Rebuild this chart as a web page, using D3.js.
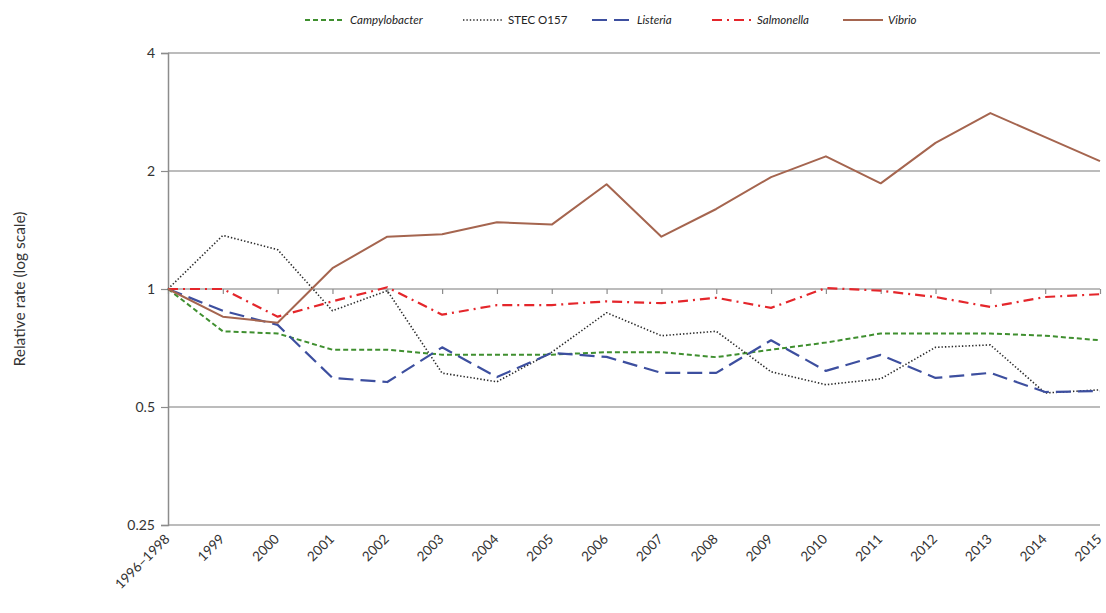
<!DOCTYPE html>
<html>
<head>
<meta charset="utf-8">
<script src="https://cdn.jsdelivr.net/npm/d3@7"></script>
<style>
  html, body { margin: 0; padding: 0; background: #fff; }
  svg { display: block; font-family: Lato, "Open Sans", sans-serif; }
</style>
</head>
<body>
<svg id="chart" width="1106" height="613"></svg>
<script>
// Periods on the category axis
const periods = ["1996\u20131998", "1999", "2000", "2001", "2002", "2003", "2004", "2005", "2006",
  "2007", "2008", "2009", "2010", "2011", "2012", "2013", "2014", "2015"];

// Relative incidence rate versus 1996–1998 baseline
const campylobacter = [1, 0.78, 0.77, 0.70, 0.70, 0.68, 0.68, 0.68, 0.69, 0.69, 0.67, 0.70, 0.73, 0.77, 0.77, 0.77, 0.76, 0.74];
const stecO157 = [1, 1.37, 1.26, 0.88, 0.99, 0.61, 0.58, 0.69, 0.87, 0.76, 0.78, 0.615, 0.57, 0.59, 0.71, 0.72, 0.543, 0.553];
const listeria = [1, 0.88, 0.81, 0.593, 0.579, 0.71, 0.596, 0.687, 0.671, 0.611, 0.611, 0.74, 0.618, 0.679, 0.593, 0.611, 0.546, 0.549];
const salmonella = [1, 1.0, 0.85, 0.93, 1.01, 0.86, 0.91, 0.91, 0.93, 0.92, 0.95, 0.895, 1.006, 0.99, 0.954, 0.90, 0.954, 0.97];
const vibrio = [1, 0.85, 0.82, 1.13, 1.36, 1.38, 1.48, 1.46, 1.85, 1.36, 1.6, 1.93, 2.18, 1.86, 2.36, 2.81, 2.44, 2.12];

// Y-axis tick values (log scale)
const yTicks = [0.25, 0.5, 1, 2, 4];

const series = [
  { name: "Campylobacter", values: campylobacter, color: "#3f8f2f", dash: "5,3", width: 2 },
  { name: "STEC O157", values: stecO157, color: "#2b2b2b", dash: "1.4,2", width: 1.6 },
  { name: "Listeria", values: listeria, color: "#3d4f9f", dash: "15,7", width: 2.2 },
  { name: "Salmonella", values: salmonella, color: "#e4262b", dash: "10,5,2,5", width: 2.2 },
  { name: "Vibrio", values: vibrio, color: "#a5654f", dash: null, width: 2 }
];

const svg = d3.select("#chart");
const plotLeft = 168, plotRight = 1100, plotTop = 53, plotBottom = 525;

const x = d3.scalePoint().domain(periods).range([plotLeft, plotRight]);
const y = d3.scaleLog().base(2).domain([0.25, 4]).range([plotBottom, plotTop]);

// Horizontal gridlines
svg.append("g").selectAll("line")
  .data(yTicks)
  .join("line")
  .attr("x1", plotLeft).attr("x2", plotRight)
  .attr("y1", d => y(d)).attr("y2", d => y(d))
  .attr("stroke", "#a6a6a6").attr("stroke-width", 1.5);

// Y axis
const yAxis = svg.append("g")
  .attr("transform", `translate(${plotLeft},0)`)
  .call(d3.axisLeft(y).tickValues(yTicks).tickFormat(d => String(d)).tickSize(7).tickPadding(6));
yAxis.select(".domain").attr("stroke", "#8c8c8c").attr("stroke-width", 1.5);
yAxis.selectAll(".tick line").attr("stroke", "#8c8c8c").attr("stroke-width", 1.2);
yAxis.selectAll(".tick text").attr("font-size", 14).attr("fill", "#333")
  .attr("font-family", "Lato, 'Open Sans', sans-serif");

// Category axis crossing at 1 (tick marks only)
const xTicksAxis = svg.append("g")
  .attr("transform", `translate(0,${y(1)})`)
  .call(d3.axisBottom(x).tickSize(5).tickFormat(""));
xTicksAxis.select(".domain").attr("stroke", "none");
xTicksAxis.selectAll(".tick line").attr("stroke", "#8c8c8c").attr("stroke-width", 1.2);

// Category labels along the bottom
const xLabels = svg.append("g")
  .attr("transform", `translate(0,${plotBottom})`)
  .call(d3.axisBottom(x).tickSize(0).tickPadding(0));
xLabels.select(".domain").remove();
xLabels.selectAll(".tick text")
  .attr("font-size", 13.5).attr("fill", "#333")
  .attr("font-family", "Lato, 'Open Sans', sans-serif")
  .attr("text-anchor", "end")
  .attr("dy", "0")
  .attr("transform", "translate(2,15) rotate(-45)");

// Y axis title
svg.append("text")
  .attr("transform", `translate(25,${(plotTop + plotBottom) / 2}) rotate(-90)`)
  .attr("text-anchor", "middle")
  .attr("font-size", 15.5).attr("fill", "#333")
  .text("Relative rate (log scale)");

// Series lines
const line = d3.line().x((d, i) => x(periods[i])).y(d => y(d));
svg.append("g").selectAll("path")
  .data(series)
  .join("path")
  .attr("d", d => line(d.values))
  .attr("fill", "none")
  .attr("stroke", d => d.color)
  .attr("stroke-width", d => d.width)
  .attr("stroke-dasharray", d => d.dash)
  .attr("stroke-linejoin", "round");

// Legend
const legendX = [305, 463, 592, 712, 843];
const legend = svg.append("g").selectAll("g")
  .data(series)
  .join("g")
  .attr("transform", (d, i) => `translate(${legendX[i]},20)`);
legend.append("line")
  .attr("x1", 0).attr("x2", 40).attr("y1", 0).attr("y2", 0)
  .attr("stroke", d => d.color)
  .attr("stroke-width", d => d.width)
  .attr("stroke-dasharray", d => d.dash);
legend.append("text")
  .attr("x", 45).attr("y", 4)
  .attr("font-size", 11.5).attr("fill", "#222")
  .attr("font-style", d => d.name === "STEC O157" ? "normal" : "italic")
  .text(d => d.name);
</script>
</body>
</html>
